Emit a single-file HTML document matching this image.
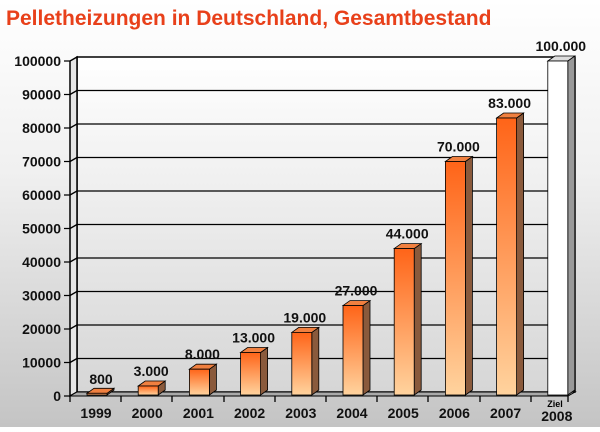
<!DOCTYPE html>
<html><head><style>
body{margin:0;width:600px;height:427px;overflow:hidden;background:linear-gradient(#ffffff,#f0f0f0 40%,#c4c4c4);font-family:"Liberation Sans",sans-serif}
</style></head><body>
<svg width="600" height="427" xmlns="http://www.w3.org/2000/svg" font-family="Liberation Sans, sans-serif">
<defs>
<linearGradient id="bf" x1="0" y1="0" x2="0" y2="1"><stop offset="0" stop-color="#ff6418"/><stop offset="1" stop-color="#ffd39e"/></linearGradient>
<linearGradient id="wall" x1="0" y1="0" x2="0" y2="1"><stop offset="0" stop-color="#ffffff"/><stop offset="1" stop-color="#d6d6d6"/></linearGradient>
</defs>
<text x="6" y="25" font-size="21" font-weight="bold" fill="#e8401a">Pelletheizungen in Deutschland, Gesamtbestand</text>
<rect x="77" y="57" width="498" height="335" fill="url(#wall)" stroke="#000" stroke-width="1.5"/>
<polygon points="70,396 77,392 77,57 70,61" fill="#e6e6e6" stroke="#000" stroke-width="1.5"/>
<polygon points="70,396 568,396 575,392 77,392" fill="#aaa" stroke="#000" stroke-width="1"/>
<g stroke="#000" stroke-width="1.3" fill="none">
<path d="M77,90.5H575M77,124H575M77,157.5H575M77,191H575M77,224.5H575M77,258H575M77,291.5H575M77,325H575M77,358.5H575"/>
<path d="M70,94.5L77,90.5M70,128L77,124M70,161.5L77,157.5M70,195L77,191M70,228.5L77,224.5M70,262L77,258M70,295.5L77,291.5M70,329L77,325M70,362.5L77,358.5"/>
<path d="M64,61H70M64,94.5H70M64,128H70M64,161.5H70M64,195H70M64,228.5H70M64,262H70M64,295.5H70M64,329H70M64,362.5H70M64,396H70"/>
<path d="M70,396V402M121,396V402M172,396V402M224,396V402M275,396V402M326,396V402M377,396V402M428,396V402M480,396V402M531,396V402M568,396V402"/>
</g>
<g font-size="14" font-weight="bold" text-anchor="end" fill="#111">
<text x="61" y="66">100000</text><text x="61" y="99.5">90000</text><text x="61" y="133">80000</text><text x="61" y="166.5">70000</text><text x="61" y="200">60000</text><text x="61" y="233.5">50000</text><text x="61" y="267">40000</text><text x="61" y="300.5">30000</text><text x="61" y="334">20000</text><text x="61" y="367.5">10000</text><text x="61" y="401">0</text>
</g>
<g stroke="#000" stroke-width="0.8">
<polygon points="107,395 114,390 114,388.3 107,393.3" fill="#8a5a3c"/><polygon points="87,393.3 94,388.3 114,388.3 107,393.3" fill="#f08040"/><rect x="87" y="393.3" width="20" height="1.7" fill="url(#bf)"/>
<polygon points="158.2,395 165.2,390 165.2,381 158.2,386" fill="#8a5a3c"/><polygon points="138.2,386 145.2,381 165.2,381 158.2,386" fill="#f08040"/><rect x="138.2" y="386" width="20" height="9" fill="url(#bf)"/>
<polygon points="209.4,395 216.4,390 216.4,364.2 209.4,369.2" fill="#8a5a3c"/><polygon points="189.4,369.2 196.4,364.2 216.4,364.2 209.4,369.2" fill="#f08040"/><rect x="189.4" y="369.2" width="20" height="25.8" fill="url(#bf)"/>
<polygon points="260.6,395 267.6,390 267.6,347.5 260.6,352.5" fill="#8a5a3c"/><polygon points="240.6,352.5 247.6,347.5 267.6,347.5 260.6,352.5" fill="#f08040"/><rect x="240.6" y="352.5" width="20" height="42.5" fill="url(#bf)"/>
<polygon points="311.8,395 318.8,390 318.8,327.4 311.8,332.4" fill="#8a5a3c"/><polygon points="291.8,332.4 298.8,327.4 318.8,327.4 311.8,332.4" fill="#f08040"/><rect x="291.8" y="332.4" width="20" height="62.6" fill="url(#bf)"/>
<polygon points="363,395 370,390 370,300.6 363,305.6" fill="#8a5a3c"/><polygon points="343,305.6 350,300.6 370,300.6 363,305.6" fill="#f08040"/><rect x="343" y="305.6" width="20" height="89.4" fill="url(#bf)"/>
<polygon points="414.2,395 421.2,390 421.2,243.6 414.2,248.6" fill="#8a5a3c"/><polygon points="394.2,248.6 401.2,243.6 421.2,243.6 414.2,248.6" fill="#f08040"/><rect x="394.2" y="248.6" width="20" height="146.4" fill="url(#bf)"/>
<polygon points="465.4,395 472.4,390 472.4,156.5 465.4,161.5" fill="#8a5a3c"/><polygon points="445.4,161.5 452.4,156.5 472.4,156.5 465.4,161.5" fill="#f08040"/><rect x="445.4" y="161.5" width="20" height="233.5" fill="url(#bf)"/>
<polygon points="516.6,395 523.6,390 523.6,113 516.6,118" fill="#8a5a3c"/><polygon points="496.6,118 503.6,113 523.6,113 516.6,118" fill="#f08040"/><rect x="496.6" y="118" width="20" height="277" fill="url(#bf)"/>
<polygon points="567.8,395 574.8,390 574.8,56 567.8,61" fill="#999"/><polygon points="547.8,61 554.8,56 574.8,56 567.8,61" fill="#ddd"/><rect x="547.8" y="61" width="20" height="334" fill="#fff"/>
</g>
<g font-size="14" font-weight="bold" text-anchor="middle" fill="#111">
<text x="101" y="384">800</text><text x="151.2" y="376">3.000</text><text x="202.4" y="359">8.000</text><text x="253.6" y="342.5">13.000</text><text x="304.8" y="322.4">19.000</text><text x="356" y="295.6">27.000</text><text x="407.2" y="238.6">44.000</text><text x="458.4" y="151.5">70.000</text><text x="509.6" y="108">83.000</text><text x="560.8" y="51">100.000</text>
<text x="96" y="418">1999</text><text x="147.2" y="418">2000</text><text x="198.4" y="418">2001</text><text x="249.6" y="418">2002</text><text x="300.8" y="418">2003</text><text x="352" y="418">2004</text><text x="403.2" y="418">2005</text><text x="454.4" y="418">2006</text><text x="505.6" y="418">2007</text><text x="556.8" y="421">2008</text>
</g>
<text x="555" y="407" font-size="9" font-weight="bold" text-anchor="middle">Ziel</text>
</svg>
</body></html>
